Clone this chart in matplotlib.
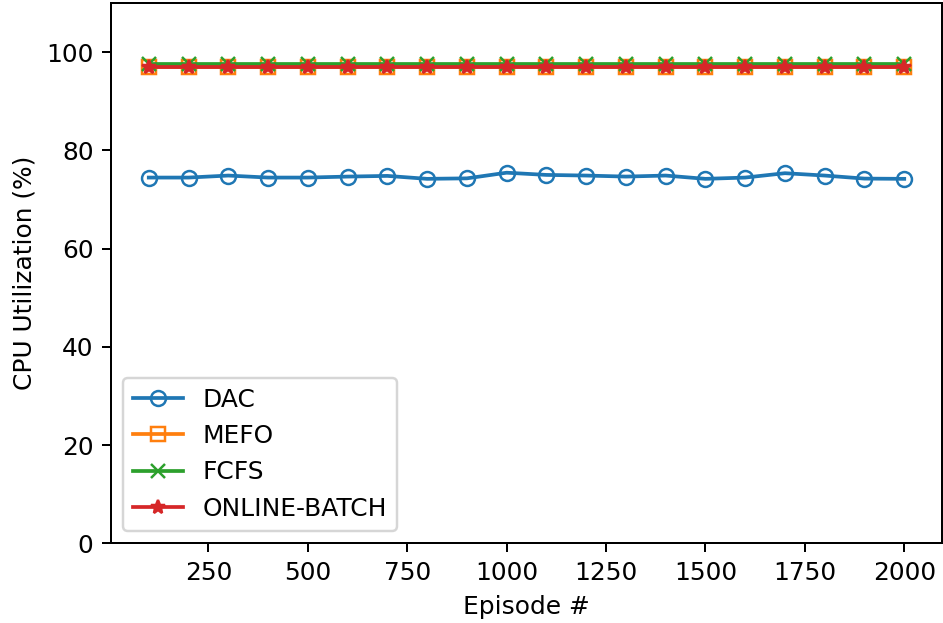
import numpy as np
import matplotlib
matplotlib.use("Agg")
import matplotlib.pyplot as plt

episodes = list(range(100, 2001, 100))
dac = [74.46, 74.46, 74.87, 74.46, 74.46, 74.66, 74.8, 74.2, 74.3, 75.45,
       75.0, 74.87, 74.66, 74.87, 74.2, 74.46, 75.35, 74.87, 74.25, 74.2]
mefo = [97.0] * 20
fcfs = [97.5] * 20
online_batch = [97.05] * 20

DPI = 179
fig = plt.figure(figsize=(943 / DPI, 623 / DPI), dpi=DPI)
ax = fig.add_axes([111 / 943, (623 - 543.3) / 623, 831 / 943, 540.3 / 623])

ax.plot(episodes, dac, marker="o", mfc="none", label="DAC")
ax.plot(episodes, mefo, marker="s", mfc="none", label="MEFO")
ax.plot(episodes, fcfs, marker="x", label="FCFS")
ax.plot(episodes, online_batch, marker="*", label="ONLINE-BATCH")

ax.set_ylim(0, 110)
ax.set_xlabel("Episode #")
ax.set_ylabel("CPU Utilization (%)")
ax.legend(loc="lower left")

fig.savefig("out.png", dpi=DPI)
